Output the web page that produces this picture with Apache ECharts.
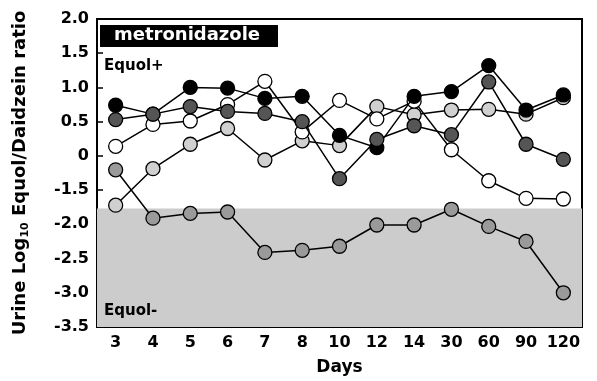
<!DOCTYPE html>
<html>
<head>
<meta charset="utf-8">
<script src="https://cdn.jsdelivr.net/npm/echarts@6/dist/echarts.min.js"></script>
<style>
html,body{margin:0;padding:0;background:#fff;}
#chart{width:597px;height:381px;}
</style>
</head>
<body>
<div id="chart"></div>
<script>
// Categories (days)
var days = ['3','4','5','6','7','8','10','12','14','30','60','90','120'];
// Y tick labels (broken axis: 0 jumps to -1.5)
var yTickLabels = ['2.0','1.5','1.0','0.5','0','-1.5','-2.0','-2.5','-3.0','-3.5'];
// Series values (urine log10 equol/daidzein ratio)
var blackVals     = [0.74, 0.61, 1.00, 0.99, 0.84, 0.87, 0.30, 0.12, 0.87, 0.94, 1.32, 0.67, 0.89];
var darkGrayVals  = [0.53, 0.61, 0.72, 0.65, 0.62, 0.50, -1.00, 0.24, 0.44, 0.31, 1.08, 0.17, -0.15];
var whiteVals     = [0.14, 0.46, 0.51, 0.75, 1.09, 0.35, 0.81, 0.54, 0.80, 0.09, -1.09, -1.62, -1.63];
var lightGrayVals = [-1.72, -0.56, 0.17, 0.40, -0.18, 0.22, 0.15, 0.72, 0.60, 0.67, 0.68, 0.61, 0.85];
var midGrayVals   = [-0.61, -1.91, -1.84, -1.82, -2.41, -2.38, -2.32, -2.01, -2.01, -1.78, -2.03, -2.25, -3.00];
var equolThreshold = -1.77;
var yBottom = -3.5;

// Broken-axis mapping: [0,2] linear, (-1.5,0) compressed into one tick, below -1.5 linear
function toAxis(v){
  if (v >= 0) return v;
  if (v >= -1.5) return v / 3;
  return v + 1;
}
function mapArr(a){ return a.map(toAxis); }

var FONT = 'DejaVu Sans';
var chart = echarts.init(document.getElementById('chart'), null, {renderer:'canvas'});

function mkSeries(name, vals, fill, z){
  return {
    name: name, type: 'line', data: mapArr(vals), z: z,
    symbol: 'circle', symbolSize: 14,
    itemStyle: {color: fill, borderColor: '#000', borderWidth: 1.3},
    lineStyle: {color: '#000', width: 1.5},
    emphasis: {disabled: true},
    animation: false
  };
}

var option = {
  animation: false,
  grid: {left: 97, right: 15, top: 19, bottom: 48, show: true, borderColor: '#000', borderWidth: 2, backgroundColor: 'transparent'},
  xAxis: {
    type: 'category', data: days, boundaryGap: true,
    name: 'Days', nameLocation: 'middle', nameGap: 32,
    nameTextStyle: {fontFamily: FONT, fontWeight: 'bold', fontSize: 17, color: '#000'},
    axisLine: {show: true, onZero: false, lineStyle: {color: '#000', width: 2}},
    axisTick: {show: true, inside: true, length: 5, alignWithLabel: false, interval: 0, lineStyle: {color: '#000', width: 1.5}},
    axisLabel: {interval: 0, fontFamily: FONT, fontWeight: 'bold', fontSize: 16, color: '#000', margin: 8},
    splitLine: {show: false}
  },
  yAxis: {
    type: 'value', min: -2.5, max: 2.0, interval: 0.5,
    name: '{a|Urine Log}{s|10}{a| Equol/Daidzein ratio}',
    nameLocation: 'middle', nameGap: 66, nameRotate: 90,
    nameTextStyle: {
      rich: {
        a: {fontFamily: FONT, fontWeight: 'bold', fontSize: 18, color: '#000', lineHeight: 22},
        s: {fontFamily: FONT, fontWeight: 'bold', fontSize: 11, color: '#000', lineHeight: 22, verticalAlign: 'bottom', padding: [9,0,0,0]}
      }
    },
    axisLine: {show: true, lineStyle: {color: '#000', width: 2}},
    axisTick: {show: true, inside: true, length: 6, lineStyle: {color: '#000', width: 1.5}},
    axisLabel: {
      fontFamily: FONT, fontWeight: 'bold', fontSize: 16, color: '#000', margin: 8,
      formatter: function(v){ var i = Math.round((2 - v) / 0.5); return yTickLabels[i] || ''; }
    },
    splitLine: {show: false}
  },
  series: [
    {
      type: 'line', data: [], z: 1, silent: true,
      markArea: {
        silent: true,
        itemStyle: {color: '#cccccc'},
        data: [[{yAxis: toAxis(equolThreshold)}, {yAxis: toAxis(yBottom)}]]
      }
    },
    mkSeries('light gray', lightGrayVals, '#d0d0d0', 3),
    mkSeries('white', whiteVals, '#ffffff', 4),
    mkSeries('black', blackVals, '#000000', 5),
    mkSeries('dark gray', darkGrayVals, '#555555', 6),
    mkSeries('medium gray', midGrayVals, '#9a9a9a', 7)
  ],
  graphic: [
    {type: 'rect', left: 100, top: 25, shape: {width: 178, height: 22}, style: {fill: '#000'}, z: 10},
    {type: 'text', left: 114, top: 26, style: {text: 'metronidazole', fill: '#fff', font: 'bold 18px "DejaVu Sans"'}, z: 11},
    {type: 'text', left: 104, top: 59, style: {text: 'Equol+', fill: '#000', font: 'bold 15px "DejaVu Sans"'}, z: 11},
    {type: 'text', left: 104, top: 304, style: {text: 'Equol-', fill: '#000', font: 'bold 15px "DejaVu Sans"'}, z: 11}
  ]
};
chart.setOption(option);
</script>
</body>
</html>
